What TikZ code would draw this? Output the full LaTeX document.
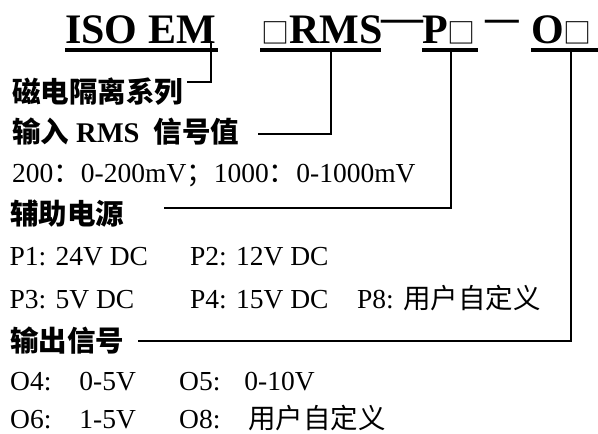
\documentclass[tikz,border=0pt]{standalone}
\usepackage{fontspec}
\setmainfont{Liberation Serif}
\newfontfamily\cjk{Noto Sans CJK SC}
\tikzset{
  ttl/.style={inner sep=0pt, anchor=base west, font=\fontsize{42}{42}\selectfont\bfseries},
  hd/.style={inner sep=0pt, anchor=base west, font=\fontsize{28.5}{28.5}\selectfont\cjk\bfseries},
  bd/.style={inner sep=0pt, anchor=base west, font=\fontsize{27.5}{27.5}\selectfont},
  ul/.style={line width=4pt},
  lead/.style={line width=1.4pt},
}
\newcommand{\sq}{{\cjk\mdseries\fontsize{28}{28}\selectfont □}}
\begin{document}
\begin{tikzpicture}[x=1pt,y=-1pt]
\useasboundingbox (0,0) rectangle (598,434);
% title
\node[ttl] (iso) at (65,43) {ISO EM};
\node[ttl] (rms) at (261,43) {\sq RMS};
\node[ttl] (d1) at (381,31) {\smash{—}};
\node[ttl] (pp) at (422,43) {P\sq};
\node[ttl] (d2) at (485,31) {\smash{\scalebox{0.8}[1]{—}}};
\node[ttl] (oo) at (531,43) {O\sq};
% underlines
\draw[ul] (65,49.5) -- (218,49.5);
\draw[ul] (260,49.5) -- (381,49.5);
\draw[ul] (422,49.5) -- (478,49.5);
\draw[ul] (531,49.5) -- (598,49.5);
% headings and bodies
\node[hd] (h1) at (12,102) {磁电隔离系列};
\node[hd] (h2) at (12,142) {输入\hspace{7pt}{\rmfamily RMS}\hspace{14pt}信号值};
\node[bd] (b1) at (12,182) {200{\cjk ：}0-200mV{\cjk ；}1000{\cjk ：}0-1000mV};
\node[hd] (h3) at (10,224) {辅助电源};
\node[bd] (p1) at (9.5,265) {P1: 24V DC};
\node[bd] (p2) at (190,265) {P2: 12V DC};
\node[bd] (p3) at (9.5,308) {P3: 5V DC};
\node[bd] (p4) at (190,308) {P4: 15V DC};
\node[bd] (p8) at (357,308) {P8: {\cjk 用户自定义}};
\node[hd] (h4) at (10,351) {输出信号};
\node[bd] (o4) at (10,390) {O4:\hspace{28pt}0-5V};
\node[bd] (o5) at (179,390) {O5:\hspace{24pt}0-10V};
\node[bd] (o6) at (10,428) {O6:\hspace{28pt}1-5V};
\node[bd] (o8) at (179,428) {O8:\hspace{28pt}{\cjk 用户自定义}};
% leaders
\coordinate (a1) at (211,43);   \coordinate (a2) at (187,82);
\coordinate (b1t) at (331,51.5); \coordinate (b2) at (258,134);
\coordinate (c1) at (451,51.5); \coordinate (c2) at (164,208);
\coordinate (e1) at (571,51.5); \coordinate (e2) at (138,341);
\draw[lead] (a1) |- (a2);
\draw[lead] (b1t) |- (b2);
\draw[lead] (c1) |- (c2);
\draw[lead] (e1) |- (e2);
\end{tikzpicture}
\end{document}
